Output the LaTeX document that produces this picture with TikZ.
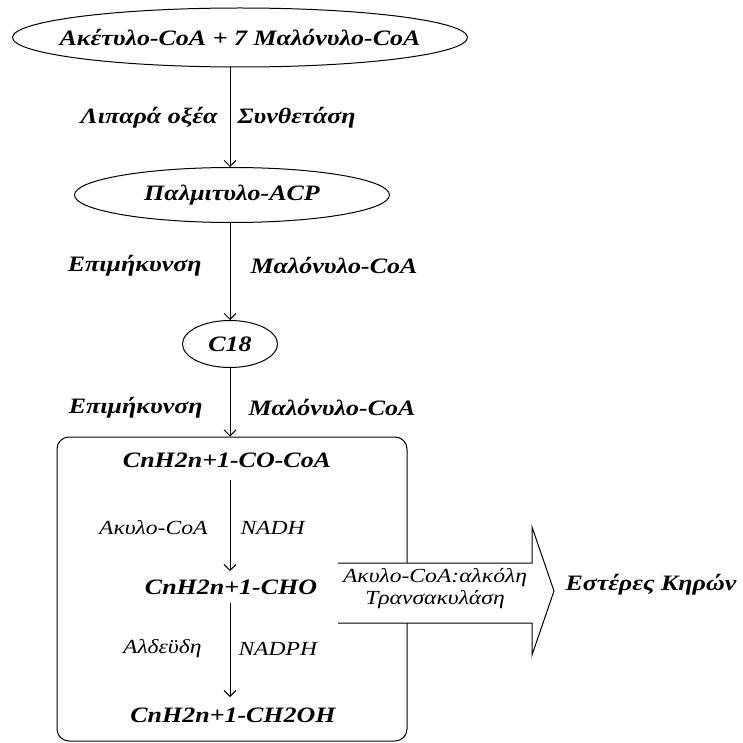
\documentclass[tikz,border=0pt]{standalone}
\usepackage{fontspec}
\setmainfont{Liberation Serif}[FakeStretch=1.18]
\usetikzlibrary{positioning,arrows.meta,shapes.geometric}

\begin{document}
\begin{tikzpicture}[x=1pt, y=-1pt, line width=1pt,
  font=\fontsize{22}{24}\selectfont\bfseries\itshape,
  >={Straight Barb[length=6pt,width=12pt]}]
\tikzstyle{ell}=[draw, ellipse, inner xsep=-40pt, inner ysep=0pt]
\tikzstyle{cmp}=[inner sep=0pt]
\tikzstyle{enz}=[inner sep=0pt, font=\fontsize{20}{22}\selectfont\itshape]
\useasboundingbox (0,0) rectangle (742,743);
% substrates and intermediates
\node[ell, minimum width=455, minimum height=59] (acoa) at (240,37.5)
  {Ακέτυλο-CoA + 7 Μαλόνυλο-CoA};
\node[ell, minimum width=315, minimum height=55] (palm) at (232,195)
  {Παλμιτυλο-ACP};
\node[ell, minimum width=95, minimum height=47] (c18) at (230,344) {C18};
\node[draw, rounded corners=12, minimum width=350, minimum height=304]
  (wax) at (232,589) {};
\draw[->] (acoa.south -| c18) --
  node[cmp, left=12pt]{Λιπαρά οξέα}
  node[cmp, right=7pt]{Συνθετάση} (palm.north -| c18);
\draw[->] (palm.south -| c18) --
  node[cmp, left=28pt, yshift=6pt]{Επιμήκυνση}
  node[cmp, right=20pt, yshift=6pt]{Μαλόνυλο-CoA} (c18);
\draw[->] (c18) --
  node[cmp, left=27pt, yshift=-5pt]{Επιμήκυνση}
  node[cmp, right=18pt, yshift=-5pt]{Μαλόνυλο-CoA} (wax.north -| c18);
% inside the box
\node[cmp] (acyl) at (227,460) {CnH2n+1-CO-CoA};
\node[cmp] (ald) at (231,587) {CnH2n+1-CHO};
\node[cmp] (alc) at (233,715) {CnH2n+1-CH2OH};
\draw[->, shorten <=12pt, shorten >=8pt] (acyl.south -| c18) --
  node[enz, left=22pt, yshift=-4pt]{Ακυλο-CoA}
  node[enz, right=10pt, yshift=-4pt]{NADH} (ald.north -| c18);
\draw[->, shorten <=8pt, shorten >=10pt] (ald.south -| c18) --
  node[enz, left=28pt, yshift=2pt]{Αλδεϋδη}
  node[enz, right=8pt, yshift=2pt]{NADPH} (alc.north -| c18);
% transacylase arrow
\fill[white] (338,563) -- (532,563) -- (532,527) -- (554,591)
  -- (532,655) -- (532,623) -- (338,623) -- cycle;
\draw (338,563) -- (532,563) -- (532,527) -- (554,591)
  -- (532,655) -- (532,623) -- (338,623);
\node[enz, align=center] (trans) at (435,589)
  {Ακυλο-CoA:αλκόλη\\Τρανσακυλάση};
\node[cmp, anchor=west] (ester) at (565,585) {Εστέρες Κηρών};
\end{tikzpicture}
\end{document}
